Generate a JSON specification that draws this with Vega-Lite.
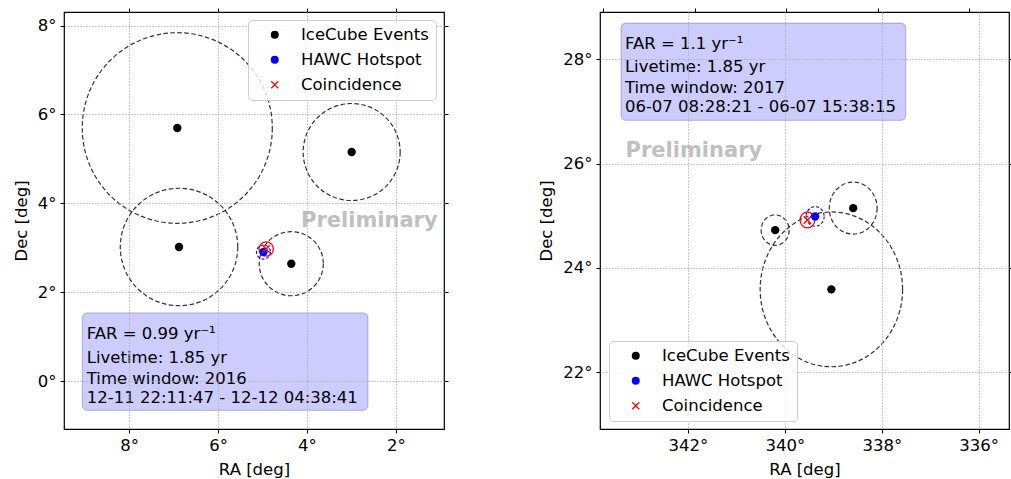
{
  "$schema": "https://vega.github.io/schema/vega-lite/v6.json",
  "padding": {"left": 12, "top": 6, "right": 0, "bottom": 0},
  "spacing": 156,
  "bounds": "flush",
  "config": {
    "font": "DejaVu Sans",
    "view": {"stroke": "#000000", "strokeWidth": 1.2},
    "axis": {
      "labelFont": "DejaVu Sans", "labelFontSize": 16.5, "labelColor": "#000000",
      "titleFont": "DejaVu Sans", "titleFontSize": 16.5, "titleFontWeight": "normal", "titleColor": "#000000",
      "tickColor": "#000000", "tickSize": 4, "tickWidth": 1, "labelPadding": 4, "titlePadding": 8,
      "domain": false, "gridColor": "#a8a8a8", "gridDash": [1.2, 1.8], "gridWidth": 1, "gridOpacity": 1
    },
    "legend": {
      "labelFont": "DejaVu Sans", "labelFontSize": 16.5, "labelColor": "#000000",
      "fillColor": "rgba(255,255,255,0.8)", "strokeColor": "#cccccc", "cornerRadius": 4,
      "padding": 6.5, "rowPadding": 8, "symbolSize": 64, "symbolOffset": 12, "labelOffset": 18,
      "symbolStrokeWidth": 0, "labelLimit": 300, "zindex": 2
    }
  },
  "datasets": {
    "pts_l": [
      {"ra": 6.915, "dec": 5.693, "r": 2.135, "kind": "IceCube Events"},
      {"ra": 2.996, "dec": 5.153, "r": 1.09, "kind": "IceCube Events"},
      {"ra": 6.876, "dec": 3.016, "r": 1.32, "kind": "IceCube Events"},
      {"ra": 4.353, "dec": 2.64, "r": 0.72, "kind": "IceCube Events"},
      {"ra": 4.978, "dec": 2.903, "r": 0.157, "kind": "HAWC Hotspot"},
      {"ra": 4.917, "dec": 2.971, "r": 0.162, "kind": "Coincidence"}
    ],
    "box_l": [{"ra": 9.049, "ra2": 2.629, "dec": 1.531, "dec2": -0.659}],
    "txt_l": [
      {"ra": 8.95, "dec": 0.939, "line": "FAR = 0.99 yr⁻¹"},
      {"ra": 8.95, "dec": 0.405, "line": "Livetime: 1.85 yr"},
      {"ra": 8.95, "dec": -0.06, "line": "Time window: 2016"},
      {"ra": 8.95, "dec": -0.488, "line": "12-11 22:11:47 - 12-12 04:38:41"}
    ],
    "pre_l": [{"ra": 4.135, "dec": 3.475, "label": "Preliminary"}],
    "pts_r": [
      {"ra": 340.2, "dec": 24.725, "r": 0.292, "kind": "IceCube Events"},
      {"ra": 338.59, "dec": 25.147, "r": 0.499, "kind": "IceCube Events"},
      {"ra": 339.04, "dec": 23.59, "r": 1.485, "kind": "IceCube Events"},
      {"ra": 339.375, "dec": 24.988, "r": 0.188, "kind": "HAWC Hotspot"},
      {"ra": 339.534, "dec": 24.92, "r": 0.153, "kind": "Coincidence"}
    ],
    "box_r": [{"ra": 343.381, "ra2": 337.505, "dec": 28.696, "dec2": 26.83}],
    "txt_r": [
      {"ra": 343.3, "dec": 28.192, "line": "FAR = 1.1 yr⁻¹"},
      {"ra": 343.3, "dec": 27.756, "line": "Livetime: 1.85 yr"},
      {"ra": 343.3, "dec": 27.353, "line": "Time window: 2017"},
      {"ra": 343.3, "dec": 26.989, "line": "06-07 08:28:21 - 06-07 15:38:15"}
    ],
    "pre_r": [{"ra": 343.287, "dec": 26.12, "label": "Preliminary"}]
  },
  "resolve": {
    "scale": {"x": "independent", "y": "independent", "size": "independent", "fill": "independent", "shape": "independent"},
    "legend": {"fill": "independent", "shape": "independent"}
  },
  "hconcat": [
    {
      "width": 380,
      "height": 417,
      "resolve": {"scale": {"x": "independent"}, "axis": {"y": "independent"}},
      "layer": [
        {
          "encoding": {
            "x": {"field": "ra", "type": "quantitative", "scale": {"domain": [0.921, 9.461], "reverse": true, "nice": false, "zero": false}, "axis": {"values": [8, 6, 4, 2], "title": "RA [deg]", "labelExpr": "datum.value + '°'", "grid": true, "zindex": 1}},
            "y": {"field": "dec", "type": "quantitative", "scale": {"domain": [-1.08, 8.304], "nice": false, "zero": false}, "axis": {"values": [0, 2, 4, 6, 8], "title": "Dec [deg]", "labelExpr": "datum.value + '°'", "grid": true, "zindex": 1}}
          },
          "layer": [
            {
              "data": {"name": "box_l"},
              "mark": {"type": "rect", "fill": "#0000ff", "fillOpacity": 0.2, "stroke": "#000000", "strokeOpacity": 0.2, "strokeWidth": 1.2, "cornerRadius": 5},
              "encoding": {"x2": {"field": "ra2"}, "y2": {"field": "dec2"}}
            },
            {
              "data": {"name": "pts_l"},
              "transform": [{"filter": "datum.kind == 'IceCube Events'"}],
              "mark": {"type": "point", "filled": false, "shape": "circle", "stroke": "#333333", "strokeWidth": 1.2, "strokeDash": [4.5, 2.5], "opacity": 1},
              "encoding": {
                "size": {"field": "r", "type": "quantitative", "scale": {"type": "pow", "exponent": 2, "domain": [0, 1], "range": [0, 7921], "zero": true, "nice": false}, "legend": null}
              }
            },
            {
              "data": {"name": "pts_l"},
              "transform": [{"filter": "datum.kind == 'HAWC Hotspot'"}],
              "mark": {"type": "point", "filled": false, "shape": "circle", "stroke": "#0000ff", "strokeWidth": 1.1, "strokeDash": [3, 2], "opacity": 1},
              "encoding": {
                "size": {"field": "r", "type": "quantitative", "scale": {"type": "pow", "exponent": 2, "domain": [0, 1], "range": [0, 7921], "zero": true, "nice": false}, "legend": null}
              }
            },
            {
              "data": {"name": "pts_l"},
              "transform": [{"filter": "datum.kind == 'Coincidence'"}],
              "mark": {"type": "point", "filled": false, "shape": "circle", "stroke": "#ff0000", "strokeWidth": 1.3, "opacity": 1},
              "encoding": {
                "size": {"field": "r", "type": "quantitative", "scale": {"type": "pow", "exponent": 2, "domain": [0, 1], "range": [0, 7921], "zero": true, "nice": false}, "legend": null}
              }
            },
            {
              "data": {"name": "pts_l"},
              "mark": {"type": "point", "filled": true, "size": 70, "opacity": 1, "strokeWidth": 0},
              "encoding": {
                "fill": {"field": "kind", "type": "nominal", "scale": {"domain": ["IceCube Events", "HAWC Hotspot", "Coincidence"], "range": ["#000000", "#0000ff", "#ff0000"]}, "legend": {"title": null, "orient": "top-right", "offset": 8}},
                "shape": {"field": "kind", "type": "nominal", "scale": {"domain": ["IceCube Events", "HAWC Hotspot", "Coincidence"], "range": ["circle", "circle", "M -1,-0.78 L -0.78,-1 L 0,-0.22 L 0.78,-1 L 1,-0.78 L 0.22,0 L 1,0.78 L 0.78,1 L 0,0.22 L -0.78,1 L -1,0.78 L -0.22,0 Z"]}, "legend": {"title": null, "orient": "top-right", "offset": 8}}
              }
            },
            {
              "data": {"name": "txt_l"},
              "mark": {"type": "text", "align": "left", "baseline": "alphabetic", "fontSize": 16.5, "color": "#000000"},
              "encoding": {"text": {"field": "line", "type": "nominal"}}
            },
            {
              "data": {"name": "pre_l"},
              "mark": {"type": "text", "align": "left", "baseline": "alphabetic", "fontSize": 21, "fontWeight": "bold", "color": "#c0c0c0"},
              "encoding": {"text": {"field": "label", "type": "nominal"}}
            }
          ]
        },
        {
          "data": {"name": "pts_l"},
          "mark": {"type": "point", "opacity": 0},
          "encoding": {
            "x": {"field": "ra", "type": "quantitative", "scale": {"domain": [0.921, 9.461], "reverse": true, "nice": false, "zero": false}, "axis": {"orient": "top", "values": [8, 6, 4, 2], "labels": false, "grid": false, "title": null}},
            "y": {"field": "dec", "type": "quantitative", "scale": {"domain": [-1.08, 8.304], "nice": false, "zero": false}, "axis": {"orient": "right", "values": [0, 2, 4, 6, 8], "labels": false, "grid": false, "title": null}}
          }
        }
      ]
    },
    {
      "width": 409,
      "height": 417,
      "resolve": {"scale": {"x": "independent"}, "axis": {"y": "independent"}},
      "layer": [
        {
          "encoding": {
            "x": {"field": "ra", "type": "quantitative", "scale": {"domain": [335.375, 343.814], "reverse": true, "nice": false, "zero": false}, "axis": {"values": [342, 340, 338, 336], "title": "RA [deg]", "labelExpr": "datum.value + '°'", "grid": true, "zindex": 1}},
            "y": {"field": "dec", "type": "quantitative", "scale": {"domain": [20.912, 28.908], "nice": false, "zero": false}, "axis": {"values": [22, 24, 26, 28], "title": "Dec [deg]", "labelExpr": "datum.value + '°'", "grid": true, "zindex": 1}}
          },
          "layer": [
            {
              "data": {"name": "box_r"},
              "mark": {"type": "rect", "fill": "#0000ff", "fillOpacity": 0.2, "stroke": "#000000", "strokeOpacity": 0.2, "strokeWidth": 1.2, "cornerRadius": 5},
              "encoding": {"x2": {"field": "ra2"}, "y2": {"field": "dec2"}}
            },
            {
              "data": {"name": "pts_r"},
              "transform": [{"filter": "datum.kind == 'IceCube Events'"}],
              "mark": {"type": "point", "filled": false, "shape": "M 0.92,0 C 0.92,0.552 0.508,1 0,1 C -0.508,1 -0.92,0.552 -0.92,0 C -0.92,-0.552 -0.508,-1 0,-1 C 0.508,-1 0.92,-0.552 0.92,0 Z", "stroke": "#333333", "strokeWidth": 1.2, "strokeDash": [4.5, 2.5], "opacity": 1},
              "encoding": {
                "size": {"field": "r", "type": "quantitative", "scale": {"type": "pow", "exponent": 2, "domain": [0, 1], "range": [0, 10866], "zero": true, "nice": false}, "legend": null}
              }
            },
            {
              "data": {"name": "pts_r"},
              "transform": [{"filter": "datum.kind == 'HAWC Hotspot'"}],
              "mark": {"type": "point", "filled": false, "shape": "M 0.92,0 C 0.92,0.552 0.508,1 0,1 C -0.508,1 -0.92,0.552 -0.92,0 C -0.92,-0.552 -0.508,-1 0,-1 C 0.508,-1 0.92,-0.552 0.92,0 Z", "stroke": "#0000ff", "strokeWidth": 1.1, "strokeDash": [3, 2], "opacity": 1},
              "encoding": {
                "size": {"field": "r", "type": "quantitative", "scale": {"type": "pow", "exponent": 2, "domain": [0, 1], "range": [0, 10866], "zero": true, "nice": false}, "legend": null}
              }
            },
            {
              "data": {"name": "pts_r"},
              "transform": [{"filter": "datum.kind == 'Coincidence'"}],
              "mark": {"type": "point", "filled": false, "shape": "M 0.92,0 C 0.92,0.552 0.508,1 0,1 C -0.508,1 -0.92,0.552 -0.92,0 C -0.92,-0.552 -0.508,-1 0,-1 C 0.508,-1 0.92,-0.552 0.92,0 Z", "stroke": "#ff0000", "strokeWidth": 1.3, "opacity": 1},
              "encoding": {
                "size": {"field": "r", "type": "quantitative", "scale": {"type": "pow", "exponent": 2, "domain": [0, 1], "range": [0, 10866], "zero": true, "nice": false}, "legend": null}
              }
            },
            {
              "data": {"name": "pts_r"},
              "mark": {"type": "point", "filled": true, "size": 70, "opacity": 1, "strokeWidth": 0},
              "encoding": {
                "fill": {"field": "kind", "type": "nominal", "scale": {"domain": ["IceCube Events", "HAWC Hotspot", "Coincidence"], "range": ["#000000", "#0000ff", "#ff0000"]}, "legend": {"title": null, "orient": "bottom-left", "offset": 8.5}},
                "shape": {"field": "kind", "type": "nominal", "scale": {"domain": ["IceCube Events", "HAWC Hotspot", "Coincidence"], "range": ["circle", "circle", "M -1,-0.78 L -0.78,-1 L 0,-0.22 L 0.78,-1 L 1,-0.78 L 0.22,0 L 1,0.78 L 0.78,1 L 0,0.22 L -0.78,1 L -1,0.78 L -0.22,0 Z"]}, "legend": {"title": null, "orient": "bottom-left", "offset": 8.5}}
              }
            },
            {
              "data": {"name": "txt_r"},
              "mark": {"type": "text", "align": "left", "baseline": "alphabetic", "fontSize": 16.5, "color": "#000000"},
              "encoding": {"text": {"field": "line", "type": "nominal"}}
            },
            {
              "data": {"name": "pre_r"},
              "mark": {"type": "text", "align": "left", "baseline": "alphabetic", "fontSize": 21, "fontWeight": "bold", "color": "#c0c0c0"},
              "encoding": {"text": {"field": "label", "type": "nominal"}}
            }
          ]
        },
        {
          "data": {"name": "pts_r"},
          "mark": {"type": "point", "opacity": 0},
          "encoding": {
            "x": {"field": "ra", "type": "quantitative", "scale": {"domain": [335.126, 344.072], "reverse": true, "nice": false, "zero": false}, "axis": {"orient": "top", "values": [344, 342, 340, 338, 336], "labels": false, "grid": false, "title": null}},
            "y": {"field": "dec", "type": "quantitative", "scale": {"domain": [20.912, 28.908], "nice": false, "zero": false}, "axis": {"orient": "right", "values": [22, 24, 26, 28], "labels": false, "grid": false, "title": null}}
          }
        }
      ]
    }
  ]
}
